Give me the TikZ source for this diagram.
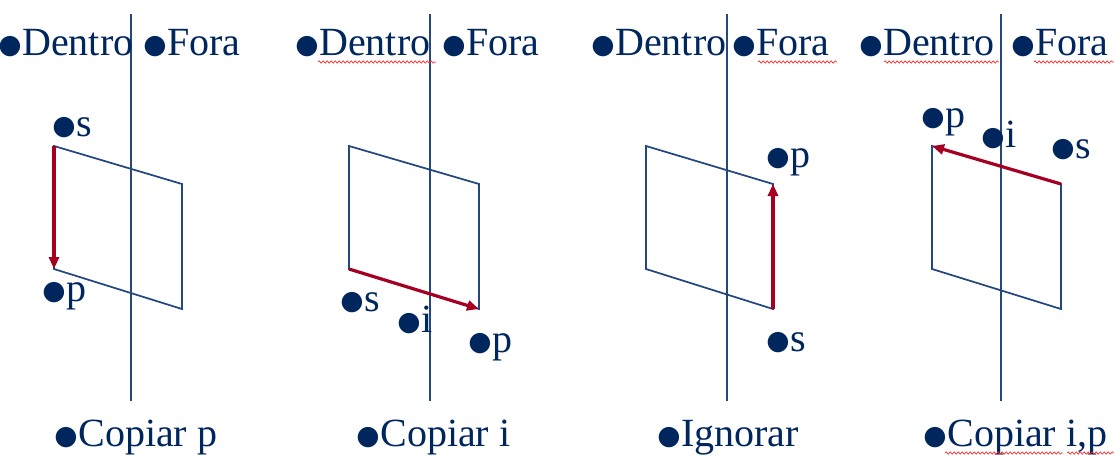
\documentclass[tikz,border=0pt]{standalone}
\usepackage{fontspec}
\setmainfont{Liberation Serif}
\newfontfamily\dotfont{DejaVu Sans}
\usetikzlibrary{arrows.meta,decorations.pathmorphing}
\definecolor{navytext}{RGB}{0,38,94}
\definecolor{planeblue}{RGB}{35,72,125}
\definecolor{edgered}{RGB}{165,0,33}
\newcommand{\pnt}{\raisebox{1pt}{\dotfont\fontsize{20}{20}\selectfont ●}\kern0.6pt}
\begin{document}
\begin{tikzpicture}[
        x=0.75pt, y=-0.75pt,
        pointlabel/.style={text=navytext, font=\fontsize{30}{32}\selectfont, inner sep=0pt, anchor=base west},
        planeline/.style={draw=planeblue, line width=1.3pt},
        cutline/.style={draw=planeblue, line width=1.3pt},
        clipedge/.style={draw=edgered, line width=2.4pt, -{Triangle[length=9pt,width=7.5pt]}},
        spellmark/.style={draw=red!85, line width=0.5pt, decorate, decoration={snake, amplitude=0.9pt, segment length=3pt}}
    ]
        \useasboundingbox (0,0) rectangle (1114,457);

        % panel 1: copiar p
        \coordinate (tl1) at (54,146);
        \coordinate (tr1) at (182,184);
        \coordinate (br1) at (182,309);
        \coordinate (bl1) at (54,269);
        \coordinate (top1) at (131,14);
        \coordinate (bot1) at (131,401);
        \draw[planeline] (tl1) -- (tr1) -- (br1) -- (bl1) -- cycle;
        \draw[cutline] (top1) -- (bot1);
        \draw[clipedge] (tl1) -- (bl1);
        \node[pointlabel] (dentro1) at (-2,55) {\pnt Dentro};
        \node[pointlabel] (fora1) at (143,55) {\pnt Fora};
        \node[pointlabel] (s1) at (52,136) {\pnt s};
        \node[pointlabel] (p1) at (42,301) {\pnt p};
        \node[pointlabel] (case1) at (54,446) {\pnt Copiar p};

        % panel 2: copiar i
        \coordinate (tl2) at (349,146);
        \coordinate (tr2) at (479,184);
        \coordinate (br2) at (479,309);
        \coordinate (bl2) at (349,269);
        \coordinate (top2) at (430,14);
        \coordinate (bot2) at (430,401);
        \draw[planeline] (tl2) -- (tr2) -- (br2) -- (bl2) -- cycle;
        \draw[cutline] (top2) -- (bot2);
        \draw[clipedge] (bl2) -- (br2);
        \node[pointlabel] (dentro2) at (295,55) {\pnt Dentro};
        \node[pointlabel] (fora2) at (442,55) {\pnt Fora};
        \node[pointlabel] (s2) at (340,311) {\pnt s};
        \node[pointlabel] (i2) at (397,332) {\pnt i};
        \node[pointlabel] (p2) at (468,352) {\pnt p};
        \node[pointlabel] (case2) at (356,446) {\pnt Copiar i};

        % panel 3: ignorar
        \coordinate (tl3) at (646,146);
        \coordinate (tr3) at (773,184);
        \coordinate (br3) at (773,309);
        \coordinate (bl3) at (646,269);
        \coordinate (top3) at (727,14);
        \coordinate (bot3) at (727,401);
        \draw[planeline] (tl3) -- (tr3) -- (br3) -- (bl3) -- cycle;
        \draw[cutline] (top3) -- (bot3);
        \draw[clipedge] (br3) -- (tr3);
        \node[pointlabel] (dentro3) at (591,55) {\pnt Dentro};
        \node[pointlabel] (fora3) at (732,55) {\pnt Fora};
        \node[pointlabel] (p3) at (766,167) {\pnt p};
        \node[pointlabel] (s3) at (766,351) {\pnt s};
        \node[pointlabel] (case3) at (657,446) {\pnt Ignorar};

        % panel 4: copiar i,p
        \coordinate (tl4) at (932,146);
        \coordinate (tr4) at (1061,184);
        \coordinate (br4) at (1061,309);
        \coordinate (bl4) at (932,269);
        \coordinate (top4) at (1001,14);
        \coordinate (bot4) at (1001,401);
        \draw[planeline] (tl4) -- (tr4) -- (br4) -- (bl4) -- cycle;
        \draw[cutline] (top4) -- (bot4);
        \draw[clipedge] (tr4) -- (tl4);
        \node[pointlabel] (dentro4) at (859,55) {\pnt Dentro};
        \node[pointlabel] (fora4) at (1011,55) {\pnt Fora};
        \node[pointlabel] (p4) at (921,127) {\pnt p};
        \node[pointlabel] (i4) at (981,147) {\pnt i};
        \node[pointlabel] (s4) at (1051,158) {\pnt s};
        \node[pointlabel] (case4) at (923,446) {\pnt Copiar i,p};

        % spell-check marks
        \draw[spellmark] (318,62) -- (436,62);
        \draw[spellmark] (758,62) -- (837,62);
        \draw[spellmark] (884,62) -- (999,62);
        \draw[spellmark] (1034,62) -- (1114,62);
        \draw[spellmark] (945,453) -- (1063,453);
        \draw[spellmark] (1067,453) -- (1114,453);
    \end{tikzpicture}
\end{document}
